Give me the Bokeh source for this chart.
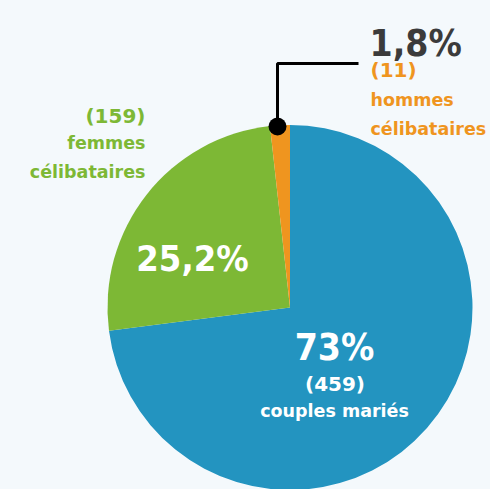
import math
from bokeh.plotting import figure
from bokeh.models import Range1d, ColumnDataSource, GlobalInlineStyleSheet
from bokeh.core.properties import value
from bokeh.embed import file_html
from bokeh.resources import INLINE

# ---- data ----
categories = ["couples mariés", "femmes célibataires", "hommes célibataires"]
counts = [459, 159, 11]
percent_labels = ["73%", "25,2%", "1,8%"]
count_labels = ["(459)", "(159)", "(11)"]
colors = ["#2394c0", "#7db835", "#ef951f"]

BG = "#f4f9fc"
W, H = 490, 489
IMG_H = 489

def Y(img_y):
    return IMG_H - img_y

p = figure(width=W, height=H, output_backend="svg", toolbar_location=None,
           x_range=Range1d(0, W), y_range=Range1d(IMG_H - H, IMG_H),
           min_border=0, background_fill_color=BG, border_fill_color=BG)
p.axis.visible = False
p.grid.visible = False
p.outline_line_color = None
p.stylesheets = [GlobalInlineStyleSheet(css="html,body{background:%s;margin:0;padding:0;overflow:hidden;}" % BG)]

cx, cy, r = 289.5, Y(307), 182.5
total = sum(counts)
starts, ends = [], []
cum = 0
for c in counts:
    starts.append(math.pi / 2 - 2 * math.pi * cum / total)
    cum += c
    ends.append(math.pi / 2 - 2 * math.pi * cum / total)

src = ColumnDataSource(dict(start=starts, end=ends, color=colors, cat=categories))
p.wedge(x=cx, y=cy, radius=r, start_angle="start", end_angle="end",
        direction="clock", fill_color="color", line_color=None, source=src)

# connector for small slice
p.line(x=[277, 277, 358], y=[Y(126), Y(63), Y(63)], line_color="black", line_width=3)
p.scatter(x=[277], y=[Y(126)], size=18, fill_color="black", line_color=None)

font = value("DejaVu Sans")
pfont = value("DejaVu Sans Condensed")
lab = "17.5px"
cnt = "20px"

# blue slice
p.text(x=[334], y=[Y(347)], text=[percent_labels[0]], text_font=pfont, text_font_size="37px",
       text_font_style="bold", text_color="white", text_align="center", text_baseline="alphabetic")
p.text(x=[334.5], y=[Y(383)], text=[count_labels[0]], text_font=font,
       text_font_size=cnt, text_font_style="bold", text_color="white",
       text_align="center", text_baseline="alphabetic")
p.text(x=[334], y=[Y(410)], text=[categories[0]], text_font=font,
       text_font_size=lab, text_font_style="bold", text_color="white",
       text_align="center", text_baseline="alphabetic")

# green slice
p.text(x=[192], y=[Y(258)], text=[percent_labels[1]], text_font=pfont, text_font_size="36px",
       text_font_style="bold", text_color="white", text_align="center", text_baseline="alphabetic")
p.text(x=[145], y=[Y(115)], text=[count_labels[1]], text_font=font,
       text_font_size=cnt, text_font_style="bold", text_color=colors[1],
       text_align="right", text_baseline="alphabetic")
p.text(x=[145, 145], y=[Y(142), Y(171)], text=["femmes", "célibataires"], text_font=font,
       text_font_size=lab, text_font_style="bold", text_color=colors[1],
       text_align="right", text_baseline="alphabetic")

# orange slice
p.text(x=[369], y=[Y(43)], text=[percent_labels[2]], text_font=pfont, text_font_size="37px",
       text_font_style="bold", text_color="#3b3b3b", text_align="left", text_baseline="alphabetic")
p.text(x=[370], y=[Y(69)], text=[count_labels[2]], text_font=font,
       text_font_size=cnt, text_font_style="bold", text_color=colors[2],
       text_align="left", text_baseline="alphabetic")
p.text(x=[370, 370], y=[Y(99), Y(128)], text=["hommes", "célibataires"], text_font=font,
       text_font_size=lab, text_font_style="bold", text_color=colors[2],
       text_align="left", text_baseline="alphabetic")

open("out.html", "w").write(file_html(p, INLINE))
